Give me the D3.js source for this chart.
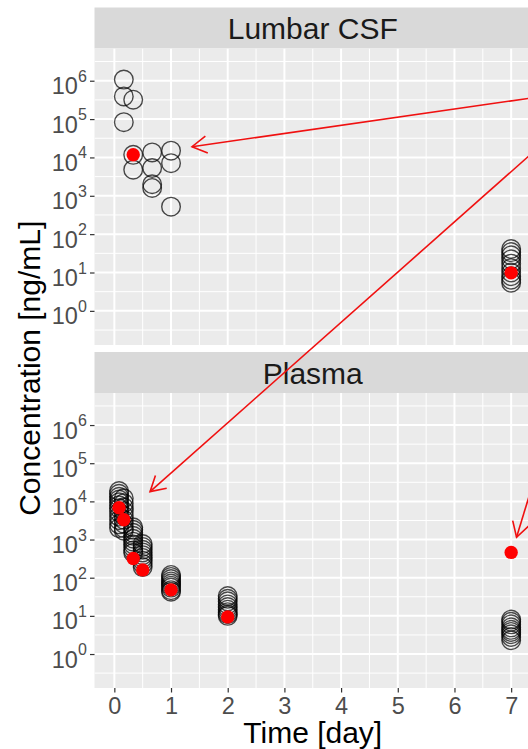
<!DOCTYPE html>
<html><head><meta charset="utf-8">
<script src="https://cdn.jsdelivr.net/npm/d3@7"></script>
<style>body{margin:0;background:#fff}svg{display:block}text{font-family:"Liberation Sans",Arial,sans-serif}</style>
</head><body>
<script>
// ---- data ----
const panels = ["Lumbar CSF", "Plasma"];
const xTicks = [0,1,2,3,4,5,6,7];
const yTicks = [1,10,100,1000,10000,100000,1000000];

// Lumbar CSF, open circles
const csfTime = [0.167,0.167,0.333,0.167,0.333,0.333,0.667,0.667,0.667,0.667,1,1,1,
  7,7,7,7,7,7,7,7,7,7];
const csfConc = [1.07e6,3.9e5,3.2e5,8.3e4,1.17e4,4.8e3,1.35e4,5.3e3,2.0e3,1.6e3,1.5e4,7.1e3,520,
  41,34,28,22,17,13,10,8,6.5,5.4];
// Lumbar CSF, highlighted
const csfRedTime = [0.333, 7];
const csfRedConc = [1.17e4, 9.8];

// Plasma, open circles
const plasmaTime = [
  0.083,0.083,0.083,0.083,0.083,0.083,0.083,0.083,0.083,0.083,0.083,0.083,
  0.167,0.167,0.167,0.167,0.167,0.167,0.167,0.167,0.167,
  0.333,0.333,0.333,0.333,0.333,0.333,0.333,0.333,0.333,0.333,
  0.5,0.5,0.5,0.5,0.5,0.5,0.5,0.5,0.5,
  1,1,1,1,1,1,1,1,1,
  2,2,2,2,2,2,2,2,2,
  7,7,7,7,7,7,7,7,7];
const plasmaConc = [
  18600,15800,13200,11200,9500,7900,6600,5200,4000,3200,2500,2000,
  12000,9000,7000,5500,4200,3300,2600,2000,1700,
  2100,1800,1500,1250,1050,880,740,620,520,450,
  760,640,540,460,390,330,280,230,190,
  118,105,92,80,70,62,55,47,43,
  33,28,24,20,17,14.5,12.5,11,10,
  8,7,6,5,4.3,3.8,3.3,2.8,2.3];
// Plasma, highlighted
const plasmaRedTime = [0.083, 0.167, 0.333, 0.5, 1, 2, 7];
const plasmaRedConc = [6800, 3300, 320, 160, 48, 9.4, 460];

// annotation arrows: [panel of start, start time, start conc, panel of tip, tip time, tip conc]
const arrowFromPanel = [0, 0, 1];
const arrowFromTime  = [7.55, 7.6, 7.42];
const arrowFromConc  = [3.9e5, 2.6e4, 4.4e4];
const arrowToPanel   = [0, 1, 1];
const arrowToTime    = [1.37, 0.63, 7.095];
const arrowToConc    = [1.9e4, 1.8e4, 1150];

// ---- layout ----
const W = 528, H = 749;
const svg = d3.select("body").append("svg").attr("width", W).attr("height", H);
const FONT = '"Liberation Sans",Arial,sans-serif';

const x = d3.scaleLinear().domain([-0.35, 7.35]).range([94.5, 531]);
const geo = [
  {stripTop: 7.5, top: 48.5, bottom: 345},
  {stripTop: 352, top: 393, bottom: 688}
];
const ys = geo.map(g => d3.scaleLog().domain([Math.pow(10,-0.89), Math.pow(10,6.84)]).range([g.bottom, g.top]));

const xMinor = d3.range(-0.5, 8, 1);
const yMinor = d3.range(-0.5, 7, 1).map(e => Math.pow(10, e));

geo.forEach((g, i) => {
  const y = ys[i];
  const p = svg.append("g");
  // strip
  p.append("rect").attr("x", 94.5).attr("y", g.stripTop).attr("width", 540).attr("height", g.top - g.stripTop).attr("fill", "#D9D9D9");
  p.append("text").attr("x", (94.5+531)/2).attr("y", g.top - 9.5).attr("text-anchor", "middle")
    .attr("font-size", 30).attr("fill", "#1A1A1A").text(panels[i]);
  // panel background
  p.append("rect").attr("x", 94.5).attr("y", g.top).attr("width", 540).attr("height", g.bottom - g.top).attr("fill", "#EBEBEB");
  const clipId = "clip" + i;
  svg.append("clipPath").attr("id", clipId).append("rect").attr("x", 94.5).attr("y", g.top).attr("width", 540).attr("height", g.bottom - g.top);
  const pc = p.append("g").attr("clip-path", `url(#${clipId})`);
  // minor grid
  pc.selectAll(".ymn").data(yMinor).join("line").attr("x1", 94.5).attr("x2", 540)
    .attr("y1", d => y(d)).attr("y2", d => y(d)).attr("stroke", "#fff").attr("stroke-width", 1);
  pc.selectAll(".xmn").data(xMinor).join("line").attr("y1", g.top).attr("y2", g.bottom)
    .attr("x1", d => x(d)).attr("x2", d => x(d)).attr("stroke", "#fff").attr("stroke-width", 1);
  // major grid
  pc.selectAll(".ymj").data(yTicks).join("line").attr("x1", 94.5).attr("x2", 540)
    .attr("y1", d => y(d)).attr("y2", d => y(d)).attr("stroke", "#fff").attr("stroke-width", 2);
  pc.selectAll(".xmj").data(xTicks).join("line").attr("y1", g.top).attr("y2", g.bottom)
    .attr("x1", d => x(d)).attr("x2", d => x(d)).attr("stroke", "#fff").attr("stroke-width", 2);

  // points
  const t = i === 0 ? csfTime : plasmaTime;
  const c = i === 0 ? csfConc : plasmaConc;
  const rt = i === 0 ? csfRedTime : plasmaRedTime;
  const rc = i === 0 ? csfRedConc : plasmaRedConc;
  pc.selectAll(".o").data(d3.range(t.length)).join("circle")
    .attr("cx", k => x(t[k])).attr("cy", k => y(c[k])).attr("r", 9.3)
    .attr("fill", "none").attr("stroke", "#000").attr("stroke-opacity", 0.7).attr("stroke-width", 1.4);
  pc.selectAll(".r").data(d3.range(rt.length)).join("circle")
    .attr("cx", k => x(rt[k])).attr("cy", k => y(rc[k])).attr("r", 6.7)
    .attr("fill", "#FF0000");

  // y axis
  const ya = d3.axisLeft(y).tickValues(yTicks).tickSize(4.5).tickPadding(3.2).tickFormat("");
  const gy = svg.append("g").attr("transform", "translate(94.5,0)").call(ya);
  gy.select(".domain").remove();
  gy.selectAll(".tick line").attr("stroke", "#333").attr("stroke-width", 1.2);
  gy.selectAll(".tick text").each(function(d) {
    const te = d3.select(this);
    te.attr("dy", null).attr("y", 13).attr("fill", "#4D4D4D").attr("font-size", 23.5).attr("font-family", FONT);
    te.text(null);
    te.append("tspan").text("10");
    te.append("tspan").attr("dy", -12.5).attr("font-size", 16).text(Math.round(Math.log10(d)));
  });
});

// x axis (bottom panel only)
const xa = d3.axisBottom(x).tickValues(xTicks).tickSize(4.5).tickPadding(4.5).tickFormat(d3.format("d"));
const gx = svg.append("g").attr("transform", `translate(0,${geo[1].bottom})`).call(xa);
gx.select(".domain").remove();
gx.selectAll(".tick line").attr("stroke", "#333").attr("stroke-width", 1.2);
gx.selectAll(".tick text").attr("fill", "#4D4D4D").attr("font-size", 23.5).attr("font-family", FONT);

// axis titles
svg.append("text").attr("x", (94.5+531)/2).attr("y", 743).attr("text-anchor", "middle")
  .attr("font-size", 30).attr("fill", "#000").text("Time [day]");
svg.append("text").attr("transform", `translate(40,${(geo[0].top + geo[1].bottom)/2}) rotate(-90)`)
  .attr("text-anchor", "middle").attr("font-size", 30).attr("fill", "#000").text("Concentration [ng/mL]");

// arrows
const ag = svg.append("g");
arrowFromTime.forEach((_, k) => {
  const x0 = x(arrowFromTime[k]), y0 = ys[arrowFromPanel[k]](arrowFromConc[k]);
  const x1 = x(arrowToTime[k]),  y1 = ys[arrowToPanel[k]](arrowToConc[k]);
  ag.append("line").attr("x1", x0).attr("y1", y0).attr("x2", x1).attr("y2", y1)
    .attr("stroke", "#F01010").attr("stroke-width", 1.6);
  const ang = Math.atan2(y0 - y1, x0 - x1), L = 17, a = Math.PI / 6;
  const pts = [[x1 + L*Math.cos(ang + a), y1 + L*Math.sin(ang + a)], [x1, y1], [x1 + L*Math.cos(ang - a), y1 + L*Math.sin(ang - a)]];
  ag.append("path").attr("d", d3.line()(pts)).attr("fill", "none")
    .attr("stroke", "#F01010").attr("stroke-width", 1.6);
});
</script>
</body></html>
